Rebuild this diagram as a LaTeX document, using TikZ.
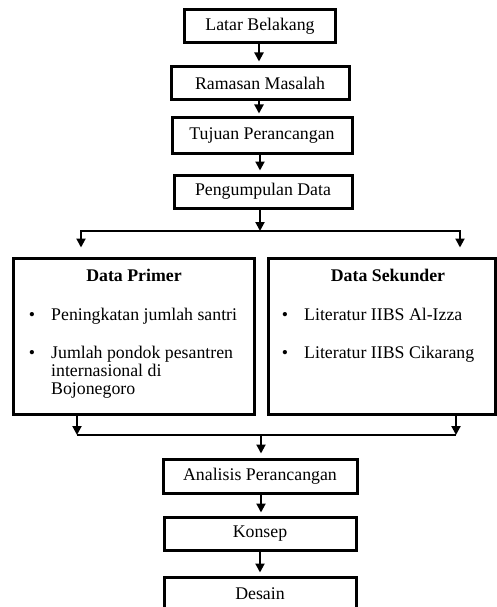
\documentclass[tikz,border=0pt]{standalone}
\usepackage{fontspec}
\setmainfont{Liberation Serif}
\usetikzlibrary{arrows.meta}
\begin{document}
\begin{tikzpicture}[x=1pt,y=-1pt,
  fnt/.style={font=\fontsize{17.8}{18}\selectfont},
  box/.style={draw, line width=3pt, inner sep=0pt, fnt},
  bigbox/.style={draw, line width=3pt, inner sep=0pt, minimum height=156pt},
  head/.style={inner sep=0pt, anchor=base, font=\fontsize{17.8}{18}\selectfont\bfseries},
  txt/.style={inner sep=0pt, anchor=base west, fnt},
  bul/.style={inner sep=0pt, anchor=base, fnt},
  conn/.style={line width=2pt},
  arr/.style={line width=2pt, -{Triangle[width=9pt,length=9pt]}}
]
\useasboundingbox (0,0) rectangle (497,607);

% main column
\node[box, minimum width=151pt, minimum height=33pt] (latar) at (260,26.5) {Latar Belakang};
\node[box, minimum width=178pt, minimum height=33pt] (ramasan) at (260,83.5) {Ramasan Masalah};
\node[box, minimum width=180pt, minimum height=35pt] (tujuan) at (262,135.5) {Tujuan Perancangan};
\node[box, minimum width=178pt, minimum height=33pt] (kumpul) at (263,191.5) {Pengumpulan Data};

% data boxes
\node[bigbox, minimum width=241pt] (primer) at (133.5,336) {};
\node[bigbox, minimum width=227pt] (sekunder) at (381.5,336) {};

\node[head] (primerh) at (134,281.5) {Data Primer};
\node[bul] (pb1) at (32,320) {\textbullet};
\node[txt] (pt1) at (51,320) {Peningkatan jumlah santri};
\node[bul] (pb2) at (32,358) {\textbullet};
\node[txt] (pt2) at (51,358) {Jumlah pondok pesantren};
\node[txt] (pt3) at (51,376) {internasional di};
\node[txt] (pt4) at (51,394) {Bojonegoro};

\node[head] (sekunderh) at (388,281.5) {Data Sekunder};
\node[bul] (sb1) at (285,320) {\textbullet};
\node[txt] (st1) at (304,320) {Literatur IIBS Al-Izza};
\node[bul] (sb2) at (285,358) {\textbullet};
\node[txt] (st2) at (304,358) {Literatur IIBS Cikarang};

% lower column
\node[box, minimum width=194pt, minimum height=34pt] (analisis) at (260,476) {Analisis Perancangan};
\node[box, minimum width=192pt, minimum height=33pt] (konsep) at (260,533.5) {Konsep};
\node[box, minimum width=192pt, minimum height=34pt] (desain) at (260,594) {Desain};

% connectors main column
\coordinate (c1) at (259,43);
\draw[arr, shorten >=4pt] (c1) -- (c1 |- ramasan.north);
\coordinate (c2) at (259,100);
\draw[arr, shorten >=3pt] (c2) -- (c2 |- tujuan.north);
\coordinate (c3) at (260,153);
\draw[arr, shorten >=3pt] (c3) -- (c3 |- kumpul.north);

% split
\coordinate (tl) at (81,231);
\coordinate (tr) at (460,231);
\coordinate (c4) at (260,208);
\draw[arr] (c4) -- (c4 |- tl);
\draw[conn] ([xshift=-1pt]tl) -- ([xshift=1pt]tr);
\draw[arr, shorten >=9pt] (tl) -- (tl |- primer.north);
\draw[arr, shorten >=9pt] (tr) -- (tr |- sekunder.north);

% merge
\coordinate (bl) at (77,435);
\coordinate (br) at (456,435);
\draw[arr] (bl |- primer.south) -- (bl);
\draw[arr] (br |- sekunder.south) -- (br);
\draw[conn] (bl) -- (br);
\coordinate (c5) at (261,435);
\draw[arr, shorten >=4pt] (c5) -- (c5 |- analisis.north);

% lower connectors
\coordinate (c6) at (261,493);
\draw[arr, shorten >=3pt] (c6) -- (c6 |- konsep.north);
\coordinate (c7) at (260,550);
\draw[arr, shorten >=3pt] (c7) -- (c7 |- desain.north);
\end{tikzpicture}
\end{document}
